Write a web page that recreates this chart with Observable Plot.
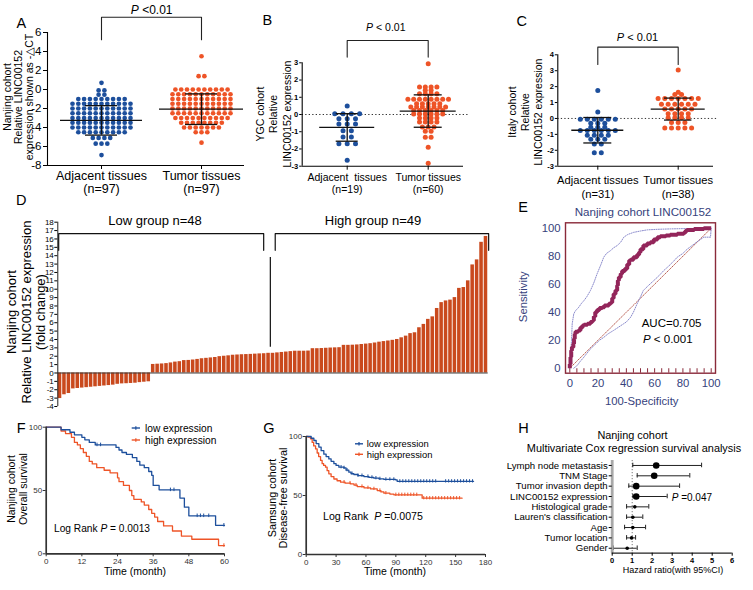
<!DOCTYPE html>
<html>
<head>
<meta charset="utf-8">
<script src="https://cdn.jsdelivr.net/npm/d3@7"></script>
<script src="https://cdn.jsdelivr.net/npm/@observablehq/plot@0.6"></script>
<style>
  html, body { margin: 0; padding: 0; background: #fff; }
  #root { position: relative; width: 753px; height: 590px; overflow: hidden; background: #fff; }
  #root svg { position: absolute; overflow: visible; max-width: none; background: transparent; }
</style>
</head>
<body>
<div id="root"></div>
<script>
// ================= DATA =================
const groupLabels = ["Adjacent tissues", "Tumor tissues"];
const groupLabelsB = ["Adjacent  tissues", "Tumor tissues"];

// Panel A: Nanjing cohort, -ΔCT
const A_adjacent = [
  0.7,
  -0.1, -0.1,
  -0.55, -0.55,
  -1.0, -1.0, -1.0, -1.0, -1.0, -1.0, -1.0, -1.0, -1.0,
  -1.5, -1.5, -1.5, -1.5, -1.5, -1.5, -1.5, -1.5, -1.5, -1.5, -1.5,
  -2.0, -2.0, -2.0, -2.0, -2.0, -2.0, -2.0, -2.0, -2.0, -2.0, -2.0,
  -2.5, -2.5, -2.5, -2.5, -2.5, -2.5, -2.5, -2.5, -2.5, -2.5, -2.5,
  -3.0, -3.0, -3.0, -3.0, -3.0, -3.0, -3.0, -3.0, -3.0, -3.0, -3.0,
  -3.5, -3.5, -3.5, -3.5, -3.5, -3.5, -3.5, -3.5, -3.5, -3.5, -3.5,
  -4.0, -4.0, -4.0, -4.0, -4.0, -4.0, -4.0, -4.0, -4.0, -4.0, -4.0,
  -4.5, -4.5, -4.5, -4.5, -4.5, -4.5, -4.5, -4.5, -4.5,
  -5.1, -5.1, -5.1, -5.1,
  -5.7, -5.7, -5.7,
  -6.9
];
const A_tumor = [
  3.5,
  1.4, 1.4,
  0.0, 0.0, 0.0, 0.0, 0.0, 0.0, 0.0, 0.0, 0.0, 0.0,
  -0.5, -0.5, -0.5, -0.5, -0.5, -0.5, -0.5, -0.5, -0.5, -0.5, -0.5,
  -1.0, -1.0, -1.0, -1.0, -1.0, -1.0, -1.0, -1.0, -1.0, -1.0, -1.0,
  -1.5, -1.5, -1.5, -1.5, -1.5, -1.5, -1.5, -1.5, -1.5, -1.5, -1.5,
  -2.0, -2.0, -2.0, -2.0, -2.0, -2.0, -2.0, -2.0, -2.0, -2.0, -2.0,
  -2.5, -2.5, -2.5, -2.5, -2.5, -2.5, -2.5, -2.5, -2.5, -2.5, -2.5,
  -3.0, -3.0, -3.0, -3.0, -3.0, -3.0, -3.0, -3.0, -3.0, -3.0,
  -3.5, -3.5, -3.5, -3.5, -3.5, -3.5, -3.5, -3.5,
  -4.0, -4.0, -4.0, -4.0, -4.0, -4.0, -4.0,
  -4.5, -4.5, -4.5,
  -5.6
];
const A_n = [97, 97];
const A_mean = [-3.25, -2.07];
const A_sd = [1.55, 1.61];

// Panel B: YGC cohort
const B_adjacent = [0.5, 0.05, 0.05, 0.05, 0.05, -0.25, -0.25, -0.25, -0.55, -0.55, -0.55,
  -0.95, -0.95, -1.3, -1.3, -1.7, -1.7, -1.7, -2.65];
const B_tumor = [
  2.94,
  1.6, 1.6, 1.6, 1.6,
  1.4, 1.4,
  1.2, 1.2, 1.2, 1.2,
  0.88, 0.88, 0.88, 0.88, 0.88, 0.88, 0.88, 0.88,
  0.63, 0.63, 0.63, 0.63, 0.63,
  0.43, 0.43, 0.43, 0.43, 0.43, 0.43, 0.43,
  0.23, 0.23, 0.23, 0.23, 0.23, 0.23,
  0.03, 0.03, 0.03, 0.03, 0.03, 0.03,
  -0.21, -0.21, -0.21, -0.21,
  -0.44, -0.44, -0.44, -0.44,
  -0.73, -0.73, -0.73,
  -0.97, -0.97,
  -1.32, -1.32,
  -1.9,
  -2.83
];
const B_n = [19, 60];
const B_mean = [-0.75, 0.2];
const B_sd = [0.8, 0.94];

// Panel C: Italy cohort
const C_adjacent = [1.75, 0.4, -0.05, -0.05, -0.05, -0.05, -0.05, -0.05, -0.3, -0.3, -0.3,
  -0.55, -0.55, -0.55, -0.75, -0.75, -0.75, -0.75, -0.75, -0.75, -1.05, -1.05, -1.05, -1.05,
  -1.3, -1.3, -1.3, -1.6, -1.6, -2.15, -2.15];
const C_tumor = [3.05, 1.65, 1.5, 1.5, 1.25, 1.25, 1.25, 1.25, 1.25, 1.25, 1.25,
  0.9, 0.9, 0.9, 0.9, 0.9, 0.9, 0.6, 0.6, 0.6, 0.6, 0.6, 0.3, 0.3, 0.3, 0.3,
  0.05, 0.05, 0.05, 0.05, -0.25, -0.25, -0.25, -0.6, -0.6, -0.6, -0.6, -0.6];
const C_n = [31, 38];
const C_mean = [-0.74, 0.59];
const C_sd = [0.8, 0.69];

// Panel D: relative expression (fold change), 97 patients sorted
const D_values = [
  -3.05, -2.6, -2.45, -1.9, -1.85, -1.8, -1.75, -1.7, -1.65, -1.6, -1.55, -1.5, -1.45, -1.35,
  -1.3, -1.28, -1.25, -1.22, -1.15, -1.1, -1.05,
  1.02, 1.05, 1.08, 1.12, 1.2, 1.3, 1.35, 1.48, 1.5, 1.55, 1.62, 1.7, 1.75, 1.8, 1.85, 1.95,
  2.0, 2.05, 2.12, 2.15, 2.18, 2.2, 2.22, 2.25, 2.28, 2.3, 2.35,
  2.35, 2.4, 2.45, 2.5, 2.55, 2.6, 2.6, 2.6, 2.62, 2.9, 2.9, 2.92, 2.95, 2.98, 3.0, 3.02,
  3.3, 3.3, 3.32, 3.35, 3.4, 3.45,
  3.5, 3.58, 3.68, 3.75, 3.82, 3.9, 4.0, 4.2, 4.4, 4.7, 4.8, 5.4, 5.8, 6.4, 6.7, 7.7, 8.4,
  8.6, 8.7, 9.0, 10.1, 10.2, 11.0, 12.9, 13.5, 15.6, 16.3
];
const D_groups = ["Low group n=48", "High group n=49"];

// Panel E: ROC (100-Specificity, Sensitivity)
const E_roc = [[0,0],[0.5,3],[1,8],[1.5,12.6],[2.5,15],[3,17.4],[3.5,21],[4,24.5],[6,26],[7.5,27],
  [9,29],[10,30.5],[12.5,31],[14.6,31.7],[16,33],[17,34],[18,37],[19.3,40],[21,41.5],[23,43],
  [24.5,43.6],[27.6,44.8],[29,46],[30,47],[31,50],[32.3,53],[33.5,55.5],[34,59],[34.7,62.6],
  [36,65],[37,67.4],[39,69.5],[40.6,71],[42,74],[43,77],[45,77.5],[47.6,79.3],[49,81],[50,82.9],
  [52,85],[54.7,87.6],[57,89],[59.4,90],[62,92],[64,93.6],[68,94.3],[71,94.8],[76,95.3],
  [80.7,96],[82,97],[83,98.3],[88,98.8],[94.8,99.5],[97,100],[100,100]];
const E_upper = [[0,0],[0.5,10],[1.2,19.8],[1.7,31.7],[2.8,38.8],[4,41],[6.4,43.6],[8,46],[10,48.3],
  [12,51],[14.6,55.5],[17,61],[19.3,67.4],[22,74],[24,79.3],[26,82],[28.8,84],[31,86],[33.5,87.6],
  [36,90],[38.2,93.6],[41,95.5],[45,97],[50,98],[54.7,98.8],[62,99.2],[71,99.5],[85,99.8],[100,100]];
const E_lower = [[2.8,0],[5.2,1.9],[7.5,5],[10,7.9],[12,10.5],[14.6,13.8],[18,17],[21,20],[24,22],
  [27,24.5],[31,27],[34,29],[38,31.7],[40,33],[43,36.4],[45,40],[47.6,46],[50,51],[52,55.5],
  [55,58.5],[59.4,62.6],[63,66],[66.5,69.8],[70,73],[73,76],[76,79.3],[80,82],[83,85],[87,88],
  [91,91],[94.8,93.6],[99.5,93.6],[100,100]];

// Panel F: Nanjing overall survival (month, %)
const F_low = [[0,100],[5,98],[8,96],[9.5,94],[12,92],[13,90],[14.5,88],[16.5,86],[23.5,84],[24.5,82],
  [25.5,80],[27,78.5],[29,76],[30.5,73],[31.5,70],[33,68],[34.5,65],[35.5,62],[36,54],[38,50.5],
  [45,44],[46.5,36.8],[48,30],[57,22.5],[60,22.5]];
const F_high = [[0,100],[5,97],[6.5,95],[8.5,92],[9.5,88],[10.5,86],[11.5,83],[12.5,80],[13.5,77],
  [14.5,73],[15.5,71],[17,68],[19.5,66],[21.5,64],[24,60],[24.5,57],[26,54],[28,50],[28.8,46],
  [29.5,43],[32,41],[33,38.5],[34.5,35],[35.5,32],[36.5,29],[37.5,25.5],[39.5,22],[42.5,18],
  [45.5,14],[49,11.5],[58,6.5],[60,6.5]];
const F_censorLow = [17.1, 18.3, 41.8, 43, 50.8, 51.9, 53, 54.7, 59.8];
const F_censorHigh = [59.8];

// Panel G: Samsung disease-free survival (month, %)
const G_low = [[0,100],[3,100],[5,98.5],[7.7,96.6],[10,94],[12.7,91],[15,88],[17.7,85],[20,83],
  [22.7,81],[25,79],[27.8,77],[30,75.5],[32.8,74],[37.8,73.4],[40,71.5],[42.8,69.8],[45,68.5],
  [47.8,67.8],[52,66.8],[57.9,66],[63,65.3],[67.9,64.7],[73,64.1],[78,63.6],[89.7,63.3],
  [91.3,62],[168,62]];
const G_high = [[0,100],[2,99.5],[4.3,98],[6,95],[7.5,92],[9.4,89.5],[11,86],[12.5,83],[14.4,79.7],
  [16,77],[17.5,75.5],[19.4,74],[21,71],[22.7,68.4],[25,66],[27.8,64],[31,62.5],[34.5,61.3],
  [39,60.5],[44.5,59.9],[48,58.8],[51.2,57.6],[58,56.5],[64.6,55.6],[71.3,54.2],[75,53],[78,52],
  [84,51.2],[88,50.6],[114.8,50.6],[116.4,47.7],[156.5,47.7]];
const G_censorLow = [35, 38, 41, 46, 52, 56, 62, 66, 70, 74, 80, 84, 88, 94, 97, 100, 103, 106,
  109, 112, 115, 118, 121, 124, 127, 130, 140, 143, 146, 149, 152, 155, 158, 161, 164, 167];
const G_censorHigh = [38, 44, 50, 56, 62, 68, 74, 80, 90, 93, 96, 99, 102, 105, 108, 111, 118,
  121, 124, 127, 130, 133, 136, 139, 142, 145, 148, 151, 154];

// Panel H: multivariate Cox regression
const H_factors = ["Lymph node metastasis", "TNM Stage", "Tumor invasion depth", "LINC00152 expression",
  "Histological grade", "Lauren's classification", "Age", "Tumor location", "Gender"];
const H_hr = [2.2, 2.1, 1.2, 1.2, 1.13, 1.03, 1.03, 0.97, 0.75];
const H_lo = [1.03, 1.25, 0.83, 1.03, 0.72, 0.72, 0.62, 0.72, 0.05];
const H_hi = [4.47, 3.88, 3.37, 2.75, 1.83, 1.53, 1.67, 1.17, 1.25];
const H_significant = [true, true, true, true, false, false, false, false, false];

// ================= STYLE =================
const FONT = '"Liberation Sans", Arial, Helvetica, sans-serif';
const BLUE = "#1d4f9c", ORANGE = "#ee5427", BAR = "#c9491d";
const NAVY = "#36427c", MAROON = "#8a2a3a", ROC = "#93255a";
const root = document.getElementById("root");

function place(svg, left, top) {
  svg.style.position = "absolute";
  svg.style.left = left + "px";
  svg.style.top = top + "px";
  svg.style.overflow = "visible";
  svg.style.background = "transparent";
  root.appendChild(svg);
}
const baseStyle = (extra = {}) => Object.assign({fontFamily: FONT, background: "transparent", overflow: "visible", color: "#000"}, extra);

// ================= SCATTER PANELS (A, B, C) =================
function scatterPanel(o) {
  const frameW = o.width - o.mL - o.mR;
  const xMax = frameW / 100;        // 100 px per x unit
  const pts = [[], []];
  o.values.forEach((vals, g) => {
    const rows = d3.group(vals, v => v);
    for (const [v, arr] of rows) {
      const n = arr.length;
      arr.forEach((_, j) => pts[g].push({v, x: o.centers[g] + (j - (n - 1) / 2) * o.step[g] / 100}));
    }
  });
  const stats = o.centers.map((c, g) => ({c, m: o.means[g], s: o.sds[g], hw: o.meanHalf[g] / 100, cw: o.capHalf[g] / 100}));
  const caps = stats.flatMap(d => [{...d, y: d.m - d.s}, {...d, y: d.m + d.s}]);
  const labelMap = new Map(o.centers.map((c, g) => [c, `${o.labels[g]}\n(n=${o.n[g]})`]));
  const [y0, y1] = o.yDomain;
  const [c0, c1] = o.centers;
  const [bb, bt] = o.bracket;
  const marks = [];
  if (o.zeroLine) marks.push(Plot.ruleY([0], {x1: 0, x2: xMax + 0.05, stroke: "#333", strokeDasharray: "1.3,2.2", strokeWidth: 1}));
  marks.push(
    Plot.dot(pts[0], {x: "x", y: "v", r: o.r, fill: BLUE}),
    Plot.dot(pts[1], {x: "x", y: "v", r: o.r, fill: ORANGE}),
    Plot.ruleY(stats, {y: "m", x1: d => d.c - d.hw, x2: d => d.c + d.hw, stroke: "#111", strokeWidth: 1.3}),
    Plot.ruleX(stats, {x: "c", y1: d => d.m - d.s, y2: d => d.m + d.s, stroke: "#111", strokeWidth: 1.3}),
    Plot.ruleY(caps, {y: "y", x1: d => d.c - d.cw, x2: d => d.c + d.cw, stroke: "#111", strokeWidth: 1.3}),
    Plot.line([[c0, bb], [c0, bt], [c1, bt], [c1, bb]], {stroke: "#222", strokeWidth: 1.1}),
    Plot.ruleX([0], {y1: y0, y2: y1, stroke: "#000", strokeWidth: 1.1}),
    Plot.ruleY([y0], {x1: 0, x2: xMax, stroke: "#000", strokeWidth: 1.1}),
    Plot.axisY({ticks: o.yTicks, tickFormat: d => String(d), tickSize: o.tickSize, tickPadding: o.tickPad,
      fontSize: o.tickFont, fontWeight: o.tickWeight, label: null}),
    Plot.axisX({ticks: o.centers, tickFormat: d => labelMap.get(d), tickSize: 4, tickPadding: o.xPad,
      fontSize: o.catFont, lineHeight: o.lineHeight, label: null})
  );
  const svg = Plot.plot({
    width: o.width, height: o.height,
    marginLeft: o.mL, marginRight: o.mR, marginTop: o.mT, marginBottom: o.mB,
    style: baseStyle(),
    x: {domain: [0, xMax], label: null},
    y: {domain: o.yDomain, label: null},
    marks
  });
  place(svg, o.left, o.top);
}

scatterPanel({
  left: 0, top: 0, width: 250, height: 200, mL: 47, mR: 6, mT: 32, mB: 35,
  values: [A_adjacent, A_tumor], centers: [0.54, 1.54], step: [5.8, 5.8], r: 2.35,
  means: A_mean, sds: A_sd, meanHalf: [41, 42], capHalf: [16, 16],
  labels: groupLabels, n: A_n, yDomain: [-8, 6], yTicks: d3.range(-8, 7, 2),
  tickSize: 4, tickPad: 2, tickFont: 11.5, tickWeight: "normal",
  xPad: 1.5, catFont: 12.5, lineHeight: 1.05, bracket: [5.25, 7.6], zeroLine: false
});
scatterPanel({
  left: 250, top: 0, width: 250, height: 200, mL: 51.7, mR: 37, mT: 62.3, mB: 34.3,
  values: [B_adjacent, B_tumor], centers: [0.45, 1.26], step: [8.3, 5.8], r: 2.5,
  means: B_mean, sds: B_sd, meanHalf: [27.5, 28], capHalf: [11, 14],
  labels: groupLabelsB, n: B_n, yDomain: [-3, 3], yTicks: d3.range(-3, 4),
  tickSize: 2.5, tickPad: 1.5, tickFont: 7.5, tickWeight: "bold",
  xPad: 3, catFont: 10.5, lineHeight: 1.08, bracket: [3.33, 4.29], zeroLine: true
});
scatterPanel({
  left: 500, top: 0, width: 253, height: 200, mL: 57.3, mR: 40, mT: 54.3, mB: 34.3,
  values: [C_adjacent, C_tumor], centers: [0.40, 1.204], step: [7, 6.7], r: 2.5,
  means: C_mean, sds: C_sd, meanHalf: [26, 27], capHalf: [14, 13.7],
  labels: groupLabels, n: C_n, yDomain: [-3, 4], yTicks: d3.range(-3, 5),
  tickSize: 2.5, tickPad: 1.5, tickFont: 7.5, tickWeight: "bold",
  xPad: 4, catFont: 11.2, lineHeight: 1.25, bracket: [3.39, 4.48], zeroLine: true
});

// ================= PANEL D =================
{
  const bars = D_values.map((v, i) => ({i, v}));
  const brackets = [
    [[0.2, 14.64], [0.2, 16.63], [46.4, 16.63], [46.4, 14.64]],
    [[49, 14.64], [49, 16.63], [97.1, 16.63], [97.1, 14.64]]
  ];
  const svg = Plot.plot({
    width: 500, height: 240, marginLeft: 57.3, marginRight: 12.3, marginTop: 31.7, marginBottom: 24,
    style: baseStyle(),
    x: {domain: [0, 97], label: null, axis: null},
    y: {domain: [-4, 18], label: null},
    marks: [
      Plot.rect(bars, {x1: "i", x2: d => d.i + 1, y1: 0, y2: "v", fill: BAR, insetLeft: 0.45, insetRight: 0.45}),
      Plot.ruleY([0], {x1: 0, x2: 97, stroke: "#3a3a3a", strokeWidth: 1}),
      Plot.ruleX([0], {y1: -4, y2: 18, stroke: "#222", strokeWidth: 1}),
      Plot.axisY({ticks: d3.range(-4, 19), tickFormat: d => String(d), tickSize: 3, tickPadding: 1, fontSize: 8, label: null}),
      ...brackets.map(b => Plot.line(b, {stroke: "#111", strokeWidth: 1.2})),
      Plot.ruleX([47.9], {y1: 3.07, y2: 13.8, stroke: "#111", strokeWidth: 1.2})
    ]
  });
  place(svg, 0, 190);
}

// ================= PANEL E =================
{
  const xd = [-3.04, 103.04], yd = [-3.57, 103.86];
  const svg = Plot.plot({
    width: 253, height: 240, marginLeft: 65, marginRight: 38, marginTop: 32.3, marginBottom: 57.3,
    style: baseStyle({color: NAVY}),
    x: {domain: xd, label: null},
    y: {domain: yd, label: null},
    marks: [
      Plot.ruleX(d3.range(0, 101, 5), {y1: yd[0], y2: yd[0] + 3.2, stroke: MAROON, strokeWidth: 1}),
      Plot.line([[0, 0], [100, 100]], {stroke: "#b04a3c", strokeDasharray: "1,1.4", strokeWidth: 0.9}),
      Plot.line(E_upper, {stroke: "#7e7ec6", strokeDasharray: "1,1.3", strokeWidth: 0.9}),
      Plot.line(E_lower, {stroke: "#7e7ec6", strokeDasharray: "1,1.3", strokeWidth: 0.9}),
      Plot.line(E_roc, {stroke: ROC, strokeWidth: 4, curve: "step-before", strokeLinejoin: "miter", strokeLinecap: "butt"}),
      Plot.frame({stroke: MAROON, strokeWidth: 1.4}),
      Plot.axisX({ticks: d3.range(0, 101, 20), tickFormat: d => String(d), tickSize: 0, tickPadding: 5.5, fontSize: 11.3, label: null}),
      Plot.axisY({ticks: d3.range(0, 101, 20), tickFormat: d => String(d), tickSize: 0, tickPadding: 5, fontSize: 11.3, label: null})
    ]
  });
  place(svg, 500, 190);
}

// ================= KM PANELS (F, G) =================
function stepAt(curve, t) {
  let y = curve[0][1];
  for (const [x, v] of curve) { if (x <= t) y = v; else break; }
  return y;
}
function kmPanel(o) {
  const cL = o.censorLow.map(t => ({t, s: stepAt(o.low, t)}));
  const cH = o.censorHigh.map(t => ({t, s: stepAt(o.high, t)}));
  const svg = Plot.plot({
    width: o.width, height: o.height, marginLeft: o.mL, marginRight: o.mR, marginTop: o.mT, marginBottom: o.mB,
    style: baseStyle(),
    x: {domain: [0, o.xMax], label: null},
    y: {domain: [0, 100], label: null},
    marks: [
      Plot.line(o.high, {curve: "step-after", stroke: ORANGE, strokeWidth: 1.3}),
      Plot.line(o.low, {curve: "step-after", stroke: BLUE, strokeWidth: 1.3}),
      Plot.ruleX(cH, {x: "t", y1: d => d.s - o.tick, y2: d => d.s + o.tick, stroke: ORANGE, strokeWidth: 1}),
      Plot.ruleX(cL, {x: "t", y1: d => d.s - o.tick, y2: d => d.s + o.tick, stroke: BLUE, strokeWidth: 1}),
      Plot.ruleX([0], {y1: 0, y2: 100, stroke: "#333", strokeWidth: 1.7}),
      Plot.ruleY([0], {x1: 0, x2: o.xMax, stroke: "#333", strokeWidth: 1.7}),
      Plot.axisX({ticks: d3.range(0, o.xMax + 1, o.xStep), tickFormat: d => String(d), tickSize: 3, tickPadding: 1.5, fontSize: 8, label: null, color: "#333"}),
      Plot.axisY({ticks: [0, 50, 100], tickFormat: d => String(d), tickSize: 3, tickPadding: 1, fontSize: 8, label: null, color: "#333"})
    ]
  });
  place(svg, o.left, o.top);
}
kmPanel({left: 0, top: 420, width: 260, height: 170, mL: 45.7, mR: 36, mT: 6.7, mB: 36.7,
  xMax: 60, xStep: 12, low: F_low, high: F_high, censorLow: F_censorLow, censorHigh: F_censorHigh, tick: 1.4});
kmPanel({left: 260, top: 420, width: 250, height: 170, mL: 45.7, mR: 25, mT: 16, mB: 36,
  xMax: 180, xStep: 30, low: G_low, high: G_high, censorLow: G_censorLow, censorHigh: G_censorHigh, tick: 1.4});

// ================= PANEL H =================
{
  const rows = H_factors.map((f, i) => ({i, f, hr: H_hr[i], lo: H_lo[i], hi: H_hi[i], big: H_significant[i]}));
  const ends = rows.flatMap(d => [{i: d.i, x: d.lo}, {i: d.i, x: d.hi}]);
  const yd = [-0.48, 8.48];
  const svg = Plot.plot({
    width: 253, height: 170, marginLeft: 111.7, marginRight: 21.3, marginTop: 40, marginBottom: 37.3,
    style: baseStyle(),
    x: {domain: [0, 6], label: null},
    y: {domain: yd, reverse: true, label: null},
    marks: [
      Plot.ruleX([1], {stroke: "#777", strokeDasharray: "1.2,1.8", strokeWidth: 1}),
      Plot.ruleY(rows, {y: "i", x1: "lo", x2: "hi", stroke: "#222", strokeWidth: 1}),
      Plot.ruleX(ends, {x: "x", y1: d => d.i - 0.22, y2: d => d.i + 0.22, stroke: "#222", strokeWidth: 1}),
      Plot.dot(rows.filter(d => d.big), {x: "hr", y: "i", r: 3.3, fill: "#000"}),
      Plot.dot(rows.filter(d => !d.big), {x: "hr", y: "i", r: 1.8, fill: "#000"}),
      Plot.ruleX([0], {stroke: "#a8a8a8", strokeWidth: 2.8}),
      Plot.ruleY([yd[1]], {x1: 0, x2: 6, stroke: "#222", strokeWidth: 1.2}),
      Plot.axisY({ticks: d3.range(9), tickFormat: i => H_factors[i], tickSize: 3, tickPadding: 1.5, fontSize: 9.6, label: null}),
      Plot.axisX({ticks: d3.range(7), tickFormat: d => String(d), tickSize: 3, tickPadding: 1, fontSize: 7.5, fontWeight: "bold", label: null})
    ]
  });
  place(svg, 500, 420);
}

// ================= TEXT OVERLAY =================
const overlay = d3.select(root).append("svg")
  .attr("width", 753).attr("height", 590)
  .style("left", "0px").style("top", "0px").style("pointer-events", "none")
  .attr("font-family", FONT);

function rich(t, str) {
  str.split("*").forEach((seg, k) => {
    if (!seg) return;
    const ts = t.append("tspan").text(seg);
    if (k % 2) ts.attr("font-style", "italic");
  });
}
function T(str, x, y, o = {}) {
  const t = overlay.append("text").attr("x", x).attr("y", y)
    .attr("font-size", o.size || 12).attr("text-anchor", o.anchor || "start")
    .attr("fill", o.color || "#000").style("white-space", "pre");
  if (o.rotate) t.attr("transform", `rotate(${o.rotate},${x},${y})`);
  rich(t, str);
}

// panel letters
[["A", 16.5, 28.3], ["B", 262.5, 25.3], ["C", 516.5, 26], ["D", 16, 205], ["E", 518.3, 211.7],
 ["F", 16.7, 433.3], ["G", 263.3, 433.3], ["H", 518.3, 433.3]].forEach(([s, x, y]) => T(s, x, y, {size: 14.5}));

// annotations
T("*P* <0.01", 151.7, 13.5, {size: 12, anchor: "middle"});
T("*P* < 0.01", 385.8, 30.5, {size: 10.5, anchor: "middle"});
T("*P* < 0.01", 637.5, 40.5, {size: 11, anchor: "middle"});
T(D_groups[0], 155, 224.5, {size: 13, anchor: "middle"});
T(D_groups[1], 373, 224.5, {size: 13, anchor: "middle"});
T("Nanjing cohort LINC00152", 643, 216.4, {size: 11.6, anchor: "middle", color: NAVY});
T("100-Specificity", 641.7, 405, {size: 11.3, anchor: "middle", color: NAVY});
T("AUC=0.705", 641.7, 326.5, {size: 11.5});
T("*P* < 0.001", 643, 342.5, {size: 11.5});
T("low expression", 145, 431.5, {size: 10.2});
T("high expression", 145, 443.5, {size: 10.2});
T("Log Rank *P* = 0.0013", 54, 532, {size: 10.2});
T("Time (month)", 135, 575.4, {size: 10.5, anchor: "middle"});
T("low expression", 366.7, 447, {size: 9.4});
T("high expression", 366.7, 457.6, {size: 9.4});
T("Log Rank  *P* =0.0075", 323, 519.8, {size: 10.6});
T("Time (month)", 395, 575.4, {size: 10.5, anchor: "middle"});
T("Nanjing cohort", 632.5, 438.8, {size: 10.9, anchor: "middle"});
T("Multivariate Cox regression survival analysis", 634, 452.1, {size: 10.9, anchor: "middle"});
T("Hazard ratio(with 95%CI)", 673, 572.5, {size: 9, anchor: "middle"});
T("*P* =0.047", 671.7, 501.2, {size: 10});

// rotated axis titles: [lines, baseline x per line, center y, size, color]
[
  [["Nanjing cohort", "Relative LINC00152", "expression shown as -△CT"], [10.5, 21.8, 33], 97, 10.5],
  [["YGC cohort", "Relative", "LINC00152 expression"], [263.7, 277, 291], 114, 10.5],
  [["Italy cohort", "Relative", "LINC00152 expression"], [516, 528.7, 542], 112, 10.5],
  [["Nanjing cohort", "Relative LINC00152 expression", "(fold change)"], [16, 31, 45], 312, 13],
  [["Sensitivity"], [527.3], 296.7, 11.3, NAVY],
  [["Nanjing cohort", "Overall survival"], [15.4, 27], 489, 10.5],
  [["Samsung cohort", "Disease-free survival"], [275.5, 287.1], 498, 10.8]
].forEach(([lines, xs, cy, size, color]) => {
  lines.forEach((s, k) => T(s, xs[k], cy, {size, anchor: "middle", rotate: -90, color}));
});

// KM legend symbols
function legendSym(x1, x2, y, color) {
  overlay.append("line").attr("x1", x1).attr("x2", x2).attr("y1", y).attr("y2", y).attr("stroke", color).attr("stroke-width", 1.4);
  const xm = (x1 + x2) / 2;
  overlay.append("line").attr("x1", xm).attr("x2", xm).attr("y1", y - 1.8).attr("y2", y + 1.8).attr("stroke", color).attr("stroke-width", 1.2);
}
legendSym(131.7, 140, 428, BLUE);
legendSym(131.7, 140, 440, ORANGE);
legendSym(355, 363, 443.8, BLUE);
legendSym(355, 363, 454.3, ORANGE);
</script>
</body>
</html>
